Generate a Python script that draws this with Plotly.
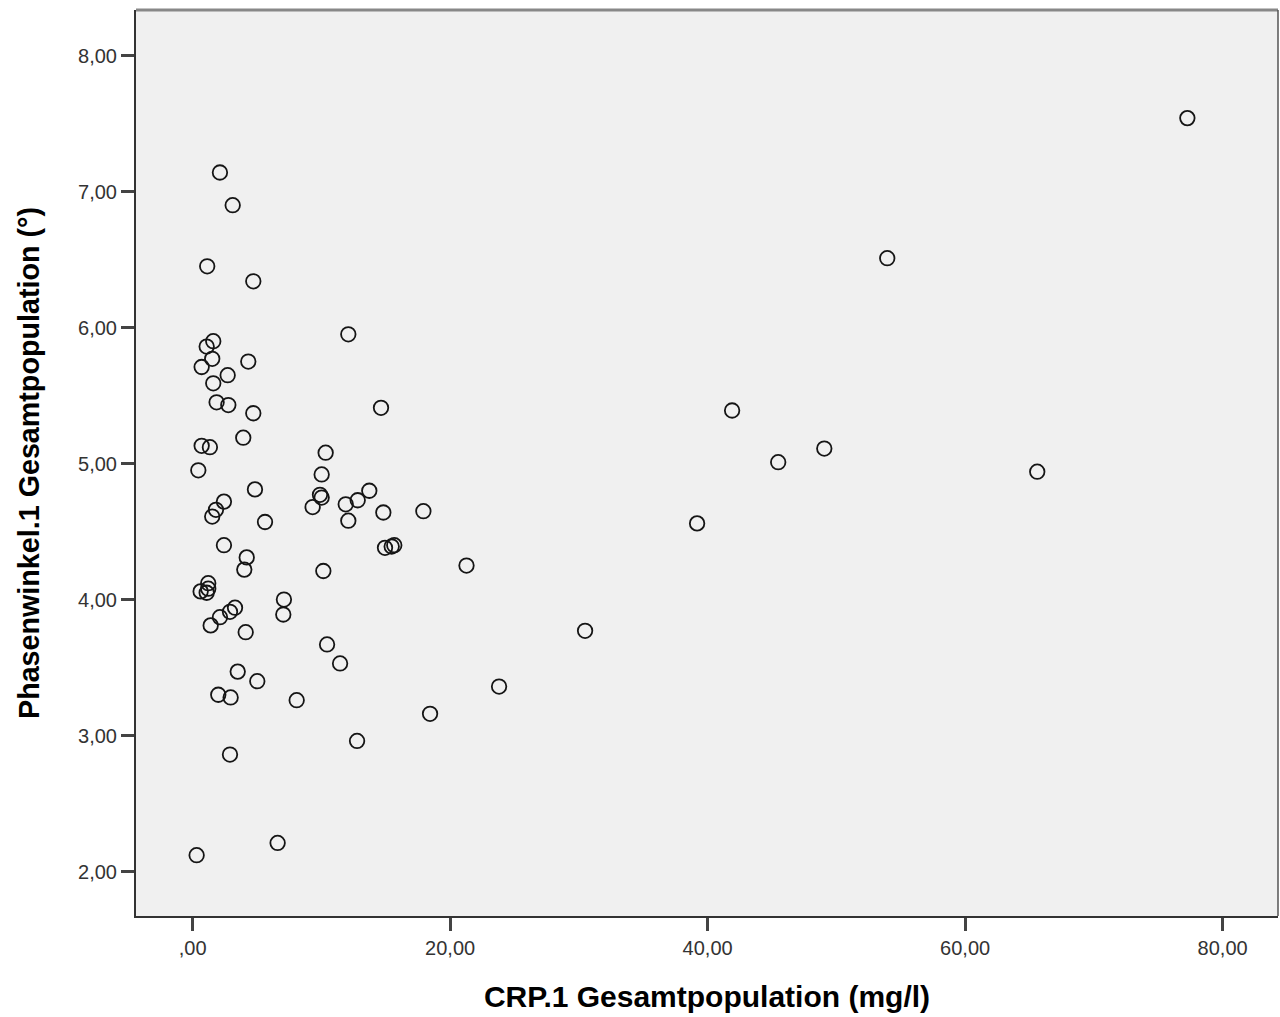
import plotly.graph_objects as go

crp = [77.26, 53.95, 41.9, 45.48, 49.06, 65.6, 39.18, 30.48, 23.8, 21.27,
       18.44, 17.92, 15.66, 15.46, 14.94, 14.81, 14.63, 13.72, 12.82, 12.09,
       12.09, 11.89, 11.45, 12.77, 10.44, 10.33, 10.02, 9.89, 10.02, 9.32,
       10.15, 8.08, 6.60, 7.09, 7.04, 5.62, 5.02, 4.84, 4.71, 4.71,
       4.32, 4.20, 4.01, 4.12, 3.93, 3.50, 3.11, 3.29, 2.90, 2.95,
       2.90, 2.72, 2.77, 2.43, 2.43, 2.12, 2.12, 1.99, 1.86, 1.81,
       1.60, 1.52, 1.60, 1.52, 1.40, 1.34, 1.21, 1.21, 1.13, 1.09,
       1.09, 0.70, 0.70, 0.62, 0.44, 0.31]
phase = [7.54, 6.51, 5.39, 5.01, 5.11, 4.94, 4.56, 3.77, 3.36, 4.25,
         3.16, 4.65, 4.40, 4.39, 4.38, 4.64, 5.41, 4.80, 4.73, 5.95,
         4.58, 4.70, 3.53, 2.96, 3.67, 5.08, 4.92, 4.77, 4.75, 4.68,
         4.21, 3.26, 2.21, 4.00, 3.89, 4.57, 3.40, 4.81, 6.34, 5.37,
         5.75, 4.31, 4.22, 3.76, 5.19, 3.47, 6.90, 3.94, 3.91, 3.28,
         2.86, 5.65, 5.43, 4.72, 4.40, 7.14, 3.87, 3.30, 5.45, 4.66,
         5.90, 5.77, 5.59, 4.61, 3.81, 5.12, 4.12, 4.08, 6.45, 5.86,
         4.05, 5.13, 5.71, 4.06, 4.95, 2.12]

x_ticks = [0, 20, 40, 60, 80]
x_tick_labels = [",00", "20,00", "40,00", "60,00", "80,00"]
y_ticks = [2, 3, 4, 5, 6, 7, 8]
y_tick_labels = ["2,00", "3,00", "4,00", "5,00", "6,00", "7,00", "8,00"]

x_title = "CRP.1 Gesamtpopulation (mg/l)"
y_title = "Phasenwinkel.1 Gesamtpopulation (°)"

fig = go.Figure()
fig.add_trace(go.Scatter(
    x=crp, y=phase, mode="markers",
    marker=dict(symbol="circle-open", size=14.5, color="#151515",
                line=dict(width=1.8, color="#151515")),
    hoverinfo="x+y", showlegend=False,
))

fam = "Liberation Sans, Arial, sans-serif"
tick_font = dict(family=fam, size=20, color="#333333")

fig.update_layout(
    width=1280, height=1017,
    margin=dict(l=136, r=2, t=10, b=101),
    paper_bgcolor="#ffffff",
    plot_bgcolor="#f0f0f0",
    xaxis=dict(
        range=[-4.4, 84.3], tickmode="array", tickvals=x_ticks, ticktext=x_tick_labels,
        ticks="outside", ticklen=13, tickwidth=2.5, tickcolor="#444444",
        showgrid=False, zeroline=False, showline=True, linecolor="#333333", linewidth=2,
        tickfont=tick_font,
        title=dict(text="<b>" + x_title + "</b>",
                   font=dict(family=fam, size=30, color="#000000"), standoff=28),
    ),
    yaxis=dict(
        range=[1.673, 8.335], tickmode="array", tickvals=y_ticks, ticktext=y_tick_labels,
        ticks="outside", ticklen=13, tickwidth=2.5, tickcolor="#444444",
        showgrid=False, zeroline=False, showline=True, linecolor="#333333", linewidth=2,
        tickfont=tick_font,
        title=dict(text="<b>" + y_title + "</b>",
                   font=dict(family=fam, size=28.7, color="#000000"), standoff=30),
    ),
    shapes=[
        dict(type="line", xref="paper", yref="paper", x0=0, x1=1, y0=1, y1=1,
             line=dict(color="#888888", width=3)),
        dict(type="line", xref="paper", yref="paper", x0=1, x1=1, y0=0, y1=1,
             line=dict(color="#555555", width=1.5)),
    ],
)

fig.write_html("out.html")
